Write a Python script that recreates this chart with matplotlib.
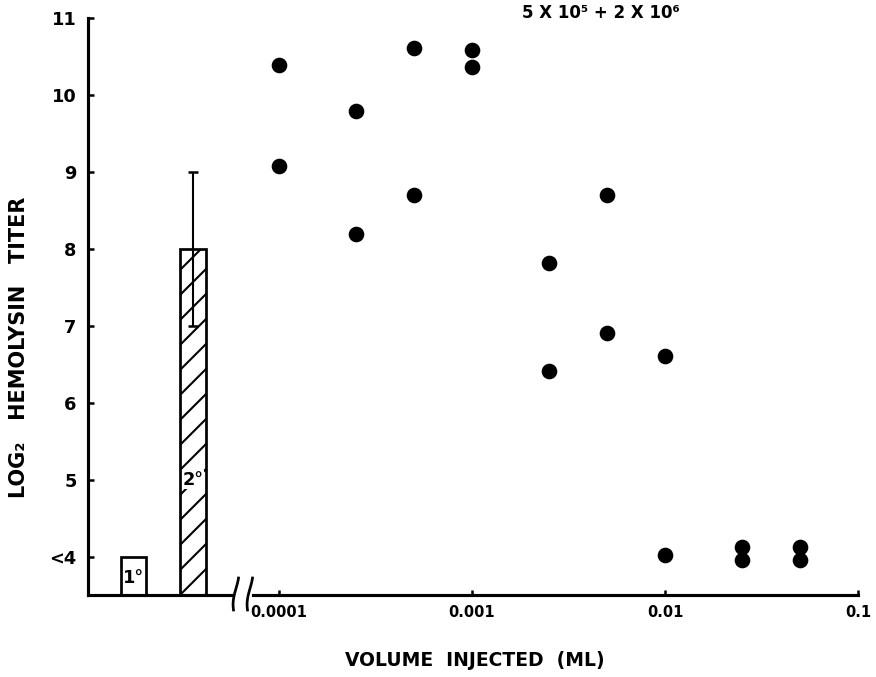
# coding: utf-8

"""
Log2 hemolysin titer vs. volume injected (bars for 1° / 2°, dots for the dilution series)
"""

import numpy as np
import matplotlib.pyplot as plt
from matplotlib.lines import Line2D

# Bars (primary / secondary response)
bar_labels = ["1°", "2°"]
bar_values = [4, 8]
bar_err = [0, 1]
bar_hatch = ["", "//"]

# Dose series (volume injected, ml) and titers
volumes = [0.0001, 0.0001, 0.00025, 0.00025, 0.0005, 0.0005, 0.001, 0.001,
	0.0025, 0.0025, 0.005, 0.005, 0.01, 0.01, 0.025, 0.025, 0.05, 0.05]
titers = [10.39, 9.08, 9.79, 8.19, 10.61, 8.70, 10.59, 10.36,
	7.81, 6.41, 8.70, 6.90, 6.61, 4.02, 4.12, 3.95, 4.12, 3.95]

y_ticks = [4, 5, 6, 7, 8, 9, 10, 11]
y_ticklabels = ["<4", "5", "6", "7", "8", "9", "10", "11"]
x_ticks = [0.0001, 0.001, 0.01, 0.1]
x_ticklabels = ["0.0001", "0.001", "0.01", "0.1"]

W, H, DPI = 876, 677, 150

def px(x, y):
	# pixel position -> figure fraction
	return x / W, 1 - y / H

def main():
	plt.rcParams["font.family"] = "DejaVu Sans"
	plt.rcParams["font.weight"] = "bold"
	plt.rcParams["hatch.linewidth"] = 1.0

	fig = plt.figure(figsize=(W / DPI, H / DPI), dpi=DPI)
	lw = 1.5

	# left part: bars
	ax1 = fig.add_axes([88 / W, 82 / H, 145 / W, 577 / H])
	# right part: log scale scatter
	ax2 = fig.add_axes([253 / W, 82 / H, 605 / W, 577 / H])

	for ax in (ax1, ax2):
		ax.set_ylim(3.5, 11)
		for s in ("top", "right"):
			ax.spines[s].set_visible(False)
		ax.spines["bottom"].set_linewidth(lw)
		ax.spines["left"].set_linewidth(lw)

	# Bars
	pos = np.arange(len(bar_values))
	for i in range(len(bar_values)):
		ax1.bar(pos[i], bar_values[i] - 3.5, bottom=3.5, width=0.43,
			color="white", edgecolor="black", linewidth=1.3, hatch=bar_hatch[i], zorder=2)
	ax1.errorbar(pos[1], bar_values[1], yerr=bar_err[1], color="black",
		elinewidth=1.0, capsize=2.5, capthick=1.2, zorder=3)
	ax1.text(pos[0], 3.6, bar_labels[0], ha="center", va="bottom", fontsize=8.5, zorder=4)
	ax1.text(pos[1], 5.0, bar_labels[1], ha="center", va="center", fontsize=8.5, zorder=4,
		bbox=dict(facecolor="white", edgecolor="none", pad=0.2))
	ax1.set_xlim(-0.765, 1.67)
	ax1.set_xticks([])
	ax1.set_yticks(y_ticks)
	ax1.set_yticklabels(y_ticklabels)
	ax1.tick_params(axis="y", direction="in", length=3, width=1.2, labelsize=8.5, pad=5.5)
	ax1.set_ylabel("LOG₂   HEMOLYSIN   TITER", fontsize=10, fontweight="bold")
	ax1.yaxis.set_label_coords(-0.41, 0.43)

	# Scatter
	ax2.set_xscale("log")
	ax2.plot(volumes, titers, "o", color="black", markersize=6.5, clip_on=False)
	ax2.set_xlim(7.34e-5, 0.1)
	ax2.spines["left"].set_visible(False)
	ax2.set_yticks([])
	ax2.set_xticks(x_ticks)
	ax2.set_xticklabels(x_ticklabels)
	ax2.xaxis.set_minor_locator(plt.NullLocator())
	ax2.tick_params(axis="x", direction="in", length=2.5, width=1.2, labelsize=7, pad=5)
	ax2.set_xlabel("VOLUME  INJECTED  (ML)", fontsize=9, fontweight="bold")
	ax2.xaxis.set_label_coords(0.367, -0.097)
	ax2.text(0.445, 1.008, "5 X 10⁵ + 2 X 10⁶", transform=ax2.transAxes,
		ha="left", va="center", fontsize=8, fontweight="bold")

	# axis break marks
	s = np.linspace(0, 1, 30)
	for x0 in (236, 250):
		xs = x0 + 2.5 * np.sin(np.pi * (s - 0.5)) - 1.5 * np.sin(np.pi * s)
		ys = 610 - 32 * s
		fx, fy = px(xs, ys)
		fig.add_artist(Line2D(fx, fy, color="black", linewidth=1.3))

	fig.savefig("out.png", dpi=DPI)

if __name__ == "__main__":
	main()
